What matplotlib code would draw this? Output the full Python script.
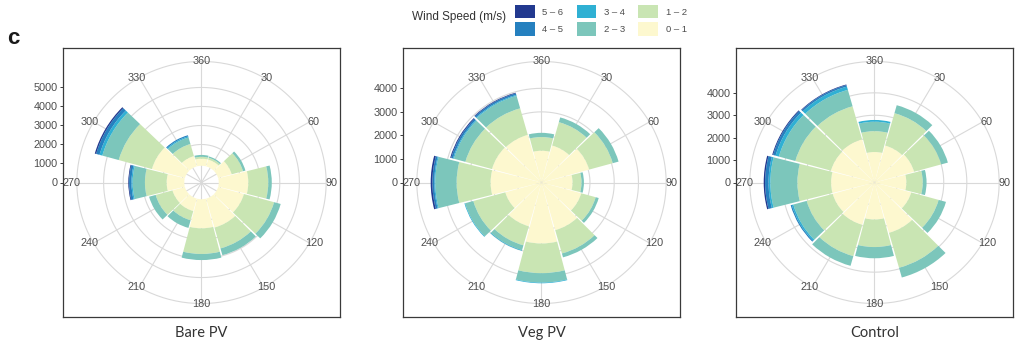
import numpy as np
import matplotlib
matplotlib.use("Agg")
import matplotlib.pyplot as plt
from matplotlib.patches import Patch

plt.rcParams["font.family"] = ["Liberation Sans", "DejaVu Sans"]

# ---- data -------------------------------------------------------------
directions = [0, 30, 60, 90, 120, 150, 180, 210, 240, 270, 300, 330]
theta_labels = ["360", "30", "60", "90", "120", "150", "180", "210",
                "240", "270", "300", "330"]
speed_bins = ["0 – 1", "1 – 2", "2 – 3", "3 – 4", "4 – 5", "5 – 6"]
speed_colors = ["#fdf8cf", "#c9e5b3", "#7cc6bb", "#2fb0d3", "#2580bf", "#22398f"]
panel_titles = ["Bare PV", "Veg PV", "Control"]

# Bare PV: counts per direction for each wind-speed class (calm left blank)
bare_calm = [880, 880, 880, 880, 880, 880, 880, 880, 880, 880, 880, 880]
bare_s01 = [370, 370, 720, 1510, 1370, 1580, 1530, 680, 660, 900, 1750, 560]
bare_s12 = [100, 100, 600, 1020, 1600, 1140, 1350, 500, 890, 1110, 1760, 660]
bare_s23 = [100, 70, 130, 180, 350, 370, 320, 420, 350, 630, 870, 360]
bare_s34 = [0, 0, 0, 0, 0, 0, 0, 0, 0, 60, 150, 60]
bare_s45 = [0, 0, 0, 0, 0, 0, 0, 0, 0, 120, 180, 60]
bare_s56 = [0, 0, 0, 0, 0, 0, 0, 0, 0, 40, 70, 0]

# Veg PV
veg_calm = [0] * 12
veg_s01 = [1350, 1630, 2040, 1280, 1700, 2100, 2590, 1930, 1550, 2100, 2120, 2100]
veg_s12 = [580, 1030, 1010, 370, 620, 1030, 1260, 840, 1370, 1400, 1140, 1170]
veg_s23 = [180, 210, 250, 100, 130, 170, 400, 210, 350, 880, 490, 550]
veg_s34 = [0, 0, 0, 0, 0, 0, 30, 30, 30, 40, 40, 40]
veg_s45 = [0, 0, 0, 0, 0, 0, 0, 0, 0, 80, 80, 70]
veg_s56 = [0, 0, 0, 0, 0, 0, 0, 0, 0, 70, 40, 30]

# Control
ctrl_calm = [0] * 12
ctrl_s01 = [1360, 1710, 1780, 1380, 1650, 2330, 1650, 1960, 1880, 1880, 1960, 2000]
ctrl_s12 = [930, 1500, 1220, 710, 1235, 1620, 1230, 1450, 1170, 1460, 1600, 1530]
ctrl_s23 = [420, 370, 300, 165, 330, 450, 500, 450, 600, 1170, 740, 760]
ctrl_s34 = [80, 0, 0, 0, 0, 0, 0, 0, 70, 80, 150, 150]
ctrl_s45 = [0, 0, 0, 0, 0, 0, 0, 0, 50, 150, 110, 70]
ctrl_s56 = [0, 0, 0, 0, 0, 0, 0, 0, 0, 60, 40, 30]

panels = [
    (bare_calm, [bare_s01, bare_s12, bare_s23, bare_s34, bare_s45, bare_s56]),
    (veg_calm, [veg_s01, veg_s12, veg_s23, veg_s34, veg_s45, veg_s56]),
    (ctrl_calm, [ctrl_s01, ctrl_s12, ctrl_s23, ctrl_s34, ctrl_s45, ctrl_s56]),
]

# ---- layout -----------------------------------------------------------
W, H = 1020, 344
fig = plt.figure(figsize=(W / 100, H / 100), dpi=100)
fig.patch.set_facecolor("white")


def px_box(x0, y0, x1, y1):
    return [x0 / W, 1 - y1 / H, (x1 - x0) / W, (y1 - y0) / H]


frames = [(63, 48, 340, 317), (403, 48, 680, 317), (736, 48, 1013, 317)]
grid_col = "#d9d9d9"
text_col = "#4d4d4d"
frame_col = "#3a3a3a"
bar_width = np.deg2rad(28.8)
theta = np.deg2rad(directions)

for (calm, classes), frame, title in zip(panels, frames, panel_titles):
    counts = np.array(classes, dtype=float)
    base = np.array(calm, dtype=float)
    tops = base + np.cumsum(counts, axis=0)
    bottoms = np.vstack([base, tops[:-1]])
    rmax_data = tops[-1].max()
    rlim = rmax_data / 0.8          # tallest bar reaches 0.4 of the panel
    breaks = np.arange(0, rmax_data + 1, 1000)

    # boxed panel carrying the radial scale on its left edge
    axf = fig.add_axes(px_box(*frame))
    axf.set_xlim(0, 1)
    axf.set_ylim(-rlim, rlim)
    axf.set_xticks([])
    axf.set_yticks(breaks)
    axf.set_yticklabels([f"{int(b)}" for b in breaks])
    axf.tick_params(axis="y", length=2.5, width=0.7, color=frame_col,
                    labelsize=7.8, labelcolor=text_col, pad=1.5)
    for sp in axf.spines.values():
        sp.set_color(frame_col)
        sp.set_linewidth(0.9)
    axf.set_zorder(1)

    # polar rose over the same box
    axp = fig.add_axes(px_box(*frame), projection="polar")
    axp.set_aspect("auto")
    axp.set_theta_zero_location("N")
    axp.set_theta_direction(-1)
    axp.set_ylim(0, rlim)
    axp.grid(False)
    axp.set_xticks([])
    axp.set_yticks([])
    axp.spines["polar"].set_visible(False)
    axp.patch.set_alpha(0)
    axp.set_zorder(2)

    circ = np.linspace(0, 2 * np.pi, 361)
    for b in list(breaks[1:]) + [0.9 * rlim]:
        axp.plot(circ, np.full_like(circ, b), color=grid_col, lw=0.8, zorder=0)
    for t in theta:
        axp.plot([t, t], [0, 0.9 * rlim], color=grid_col, lw=0.8, zorder=0)

    for k in range(len(speed_bins)):
        axp.bar(theta, counts[k], width=bar_width, bottom=bottoms[k],
                color=speed_colors[k], edgecolor="none", linewidth=0,
                align="center", zorder=2)

    for t, lab in zip(theta, theta_labels):
        axp.annotate(lab, xy=(t, 0.9 * rlim), xytext=(np.sin(t) * 5, 0),
                     textcoords="offset pixels", ha="center", va="center",
                     fontsize=7.8, color=text_col, zorder=5,
                     annotation_clip=False)

    cx = (frame[0] + frame[2]) / 2
    fig.text(cx / W, 1 - 333 / H, title, ha="center", va="center",
             fontsize=10.5, family=["Lato", "DejaVu Sans"], color="#333333")

# panel letter
fig.text(13 / W, 1 - 39 / H, "c", ha="center", va="center", fontsize=16,
         fontweight="bold", color="#1a1a1a")

# legend, highest class first, filled column-wise
order = list(range(len(speed_bins)))[::-1]
handles = [Patch(facecolor=speed_colors[i], edgecolor="none") for i in order]
labels = [speed_bins[i] for i in order]
leg = fig.legend(handles, labels, ncol=3, loc="upper left",
                 bbox_to_anchor=(515 / W, 1 - 5 / H), frameon=False,
                 fontsize=6.8, handlelength=2.1, handleheight=1.8,
                 labelspacing=0.4, columnspacing=1.4, handletextpad=0.8,
                 borderpad=0, borderaxespad=0)
for txt in leg.get_texts():
    txt.set_color(text_col)
fig.text(506 / W, 1 - 17 / H, "Wind Speed (m/s)", ha="right", va="center",
         fontsize=8.5, color="#333333")

fig.savefig("out.png", dpi=100)
